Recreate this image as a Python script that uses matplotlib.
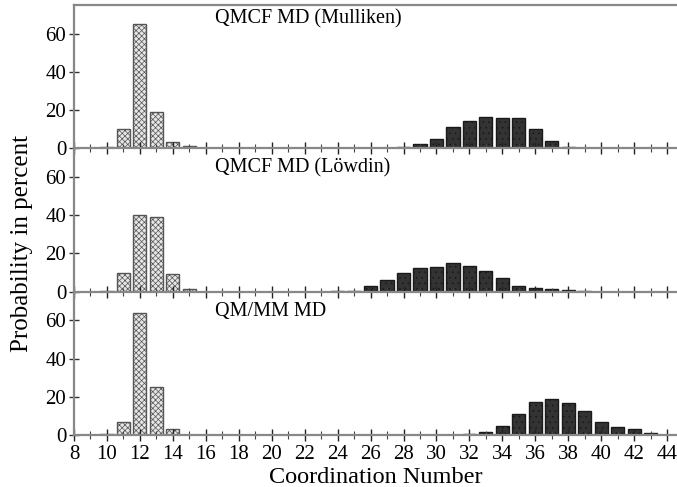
import matplotlib.pyplot as plt
import numpy as np
from matplotlib.ticker import MultipleLocator

plt.rcParams['font.family'] = ['Liberation Serif', 'DejaVu Serif']
plt.rcParams['hatch.linewidth'] = 0.5
plt.rcParams['hatch.color'] = '#9a9a9a'

# coordination numbers of the first (light) and second (dark) shell
light_x = [10, 11, 12, 13, 14, 15]
dark_x = list(range(24, 44))

titles = ['QMCF MD (Mulliken)', 'QMCF MD (Löwdin)', 'QM/MM MD']
title_y = [68.0, 64.7, 64.7]

# probabilities in percent
mulliken_light = [0.5, 10, 65, 19, 3.5, 1]
mulliken_dark = [0.2, 0.3, 0.3, 0.4, 0.9, 2.4, 5, 11, 14.5, 16.3, 15.8, 15.8,
                 10, 3.8, 0.8, 0, 0, 0, 0, 0]
lowdin_light = [0.5, 10, 40, 39, 9, 1.5]
lowdin_dark = [0.5, 0.6, 2.8, 6, 10, 12.3, 13, 15, 13.3, 10.7, 7, 2.8,
               1.8, 1.2, 0.7, 0.3, 0, 0, 0, 0]
qmmm_light = [0.5, 7, 64, 25, 3, 0]
qmmm_dark = [0, 0, 0, 0, 0, 0, 0, 0, 0.7, 1.4, 4.7, 10.9,
             17.5, 18.8, 16.7, 12.3, 7, 4, 3, 0.9]

light_sets = [mulliken_light, lowdin_light, qmmm_light]
dark_sets = [mulliken_dark, lowdin_dark, qmmm_dark]

fig, axes = plt.subplots(3, 1, figsize=(6.77, 4.87), dpi=100, sharex=True)
fig.subplots_adjust(left=0.1093, right=1.0, bottom=0.1068, top=0.9897, hspace=0)

for i, ax in enumerate(axes):
    ax.bar(light_x, light_sets[i], width=0.8, color='#e6e6e6', edgecolor='#555555',
           hatch='xxxxxx', linewidth=1.0)
    ax.bar(dark_x, dark_sets[i], width=0.8, color='#333333', edgecolor='#1a1a1a',
           hatch='...', linewidth=1.0)
    ax.set_xlim(8, 44.6)
    ax.set_ylim(0, 75)
    ax.set_yticks([0, 20, 40, 60])
    ax.xaxis.set_major_locator(MultipleLocator(2))
    ax.xaxis.set_minor_locator(MultipleLocator(1))
    ax.tick_params(axis='x', which='major', direction='inout', length=9, width=1.0,
                   color='#222222', labelsize=15, pad=3)
    ax.tick_params(axis='x', which='minor', direction='inout', length=6, width=0.8,
                   color='#444444')
    ax.tick_params(axis='y', direction='inout', length=7, width=1.0, color='#333333',
                   labelsize=15, pad=2)
    ax.spines['right'].set_visible(False)
    ax.spines['top'].set_visible(i == 0)
    for s in ['left', 'bottom', 'top']:
        ax.spines[s].set_color('#888888')
        ax.spines[s].set_linewidth(1.6)
    ax.text(16.55, title_y[i], titles[i], fontsize=14.5, ha='left', va='center')
    ax.patch.set_alpha(0)

axes[2].set_xlabel('Coordination Number', fontsize=17.5, labelpad=2)
fig.text(0.032, 0.5, 'Probability in percent', rotation=90, fontsize=18,
         ha='center', va='center')

plt.savefig('out.png', dpi=100)
